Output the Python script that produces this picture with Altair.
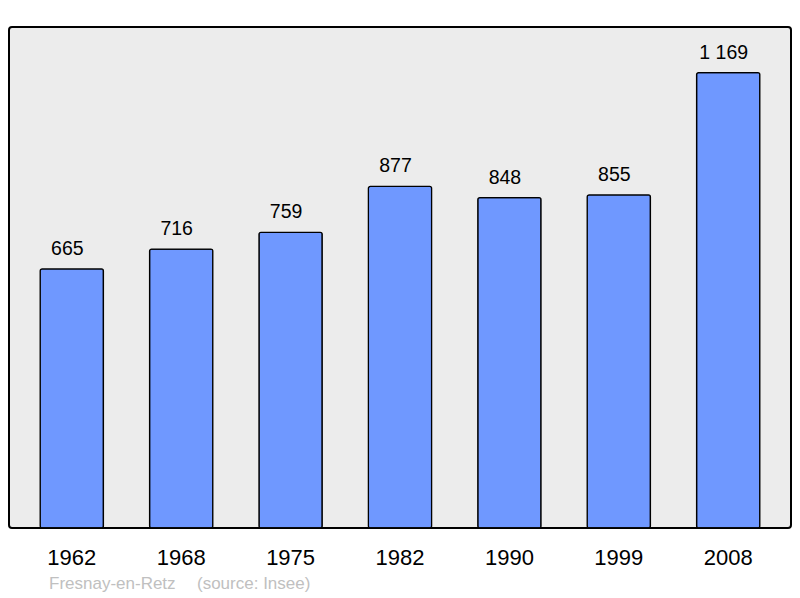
import altair as alt
import pandas as pd

years = ["1962", "1968", "1975", "1982", "1990", "1999", "2008"]
population = [665, 716, 759, 877, 848, 855, 1169]
footer_texts = ["Fresnay-en-Retz", "(source: Insee)"]
footer_x = [40, 188]

df = pd.DataFrame({"year": years, "pop": population})

W, H = 782, 501
FONT = "Liberation Sans"

x = alt.X("year:N", sort=years, title=None,
          scale=alt.Scale(paddingInner=0.422, paddingOuter=0.285),
          axis=alt.Axis(labelAngle=0, domain=False, ticks=False, labelFontSize=22,
                        labelColor="black", labelFont=FONT, labelBaseline="alphabetic",
                        labelPadding=36))
y = alt.Y("pop:Q", title=None, scale=alt.Scale(domain=[0, 1286], nice=False),
          axis=None)

bars = alt.Chart(df).mark_bar(color="#6f98ff", stroke="black", strokeWidth=1.3,
                              cornerRadius=2).encode(x=x, y=y)

labels = alt.Chart(df).transform_calculate(
    lab="replace(format(datum.pop, ','), ',', ' ')"
).mark_text(font=FONT, fontSize=19.5, baseline="alphabetic", dy=-14, dx=-4.5,
            color="black").encode(
    x=alt.X("year:N", sort=years), y="pop:Q", text="lab:N")

footers = [
    alt.Chart(df.head(1)).mark_text(font=FONT, fontSize=17, color="#c0c0c0",
                                    align="left", baseline="alphabetic", text=t).encode(
        x=alt.value(px), y=alt.value(562))
    for t, px in zip(footer_texts, footer_x)
]

chart = alt.layer(bars, labels, *footers).properties(
    width=W, height=H,
    autosize=alt.AutoSizeParams(type="none"),
    padding={"left": 1, "top": 19, "right": 1, "bottom": 66},
).configure_view(stroke="black", strokeWidth=2, fill="#ececec", cornerRadius=3)

chart.save("out.html", embed_options={"renderer": "svg", "actions": False})
